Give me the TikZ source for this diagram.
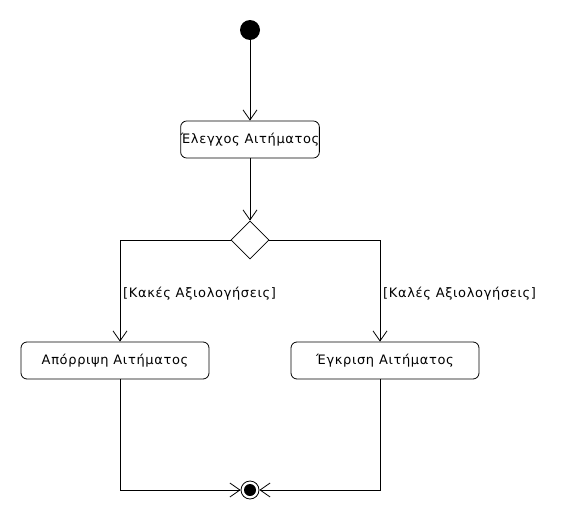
\documentclass[tikz,border=0pt]{standalone}
\usepackage{fontspec}
\setmainfont[LetterSpace=5]{DejaVu Sans}
\usetikzlibrary{arrows.meta,shapes.geometric}
\begin{document}
\begin{tikzpicture}[x=1pt,y=-1pt,
  every node/.style={font=\fontsize{13}{15}\selectfont},
  act/.style={draw,rounded corners=6pt,line width=0.8pt,minimum height=37pt,inner sep=0pt},
  flow/.style={draw,line width=0.8pt,-{Straight Barb[length=10pt,width=14pt,line width=0.8pt]}},
  guard/.style={anchor=west,inner sep=0pt}]
\useasboundingbox (0,0) rectangle (570,530);
\node[circle,fill=black,minimum size=20pt,inner sep=0pt] (start) at (250,30) {};
\node[act,minimum width=138pt] (check) at (250,139.5) {Έλεγχος Αιτήματος};
\node[diamond,draw,line width=0.8pt,minimum width=38pt,minimum height=38pt,inner sep=0pt] (dec) at (250,240) {};
\node[act,minimum width=188pt] (reject) at (115,360.5) {Απόρριψη Αιτήματος};
\node[act,minimum width=188pt] (accept) at (385,360.5) {Έγκριση Αιτήματος};
\node[circle,draw,line width=0.8pt,minimum size=18pt,inner sep=0pt] (end) at (250,490) {};
\node[circle,fill=black,minimum size=12pt,inner sep=0pt] at (end) {};
\coordinate (lc) at (120,240);
\coordinate (rc) at (380,240);
\coordinate (lb) at (120,490);
\coordinate (rb) at (380,490);
\draw[flow] (start) -- (check);
\draw[flow] (check) -- (dec);
\draw[flow] (dec.west) -- (lc) -- (reject.north -| lc);
\draw[flow] (dec.east) -- (rc) -- (accept.north -| rc);
\draw[flow] (reject.south -| lb) -- (lb) -- (end);
\draw[flow] (accept.south -| rb) -- (rb) -- (end);
\node[guard] (g1) at (123,294) {[Κακές Αξιολογήσεις]};
\node[guard] (g2) at (383,294) {[Καλές Αξιολογήσεις]};
\end{tikzpicture}
\end{document}
